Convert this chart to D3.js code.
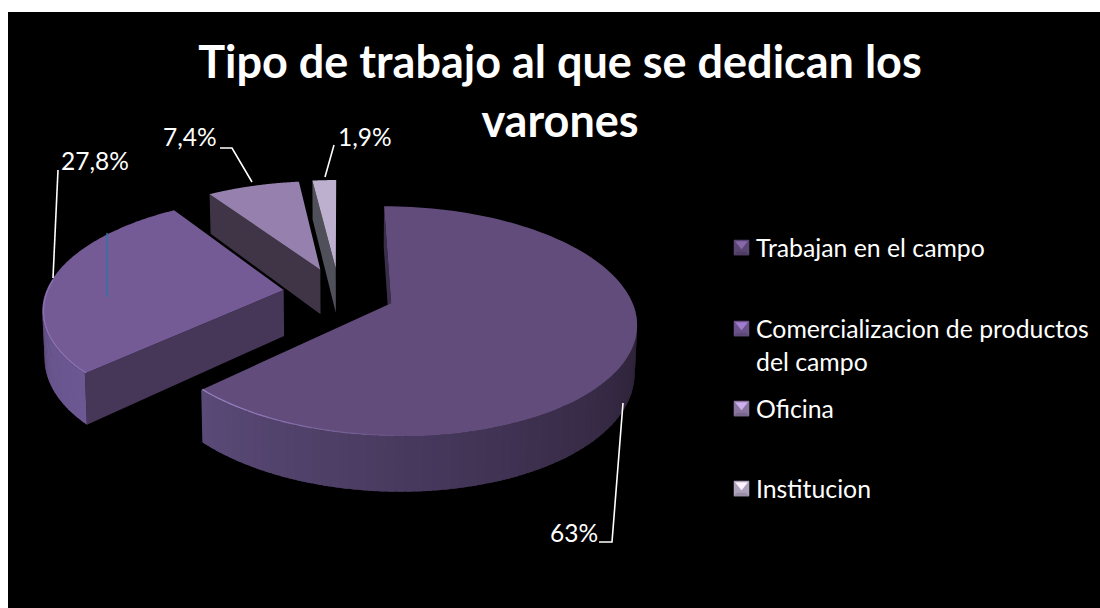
<!DOCTYPE html>
<html><head><meta charset="utf-8">
<style>html,body{margin:0;padding:0;background:#fff;}svg{display:block;}text{font-family:Lato,"Open Sans",sans-serif;fill:#fff;}</style>
<script src="https://cdn.jsdelivr.net/npm/d3@7"></script>
</head><body><svg id="c" width="1100" height="608"></svg>
<script>
const titleLines = ["Tipo de trabajo al que se dedican los", "varones"];
const categories = ["Trabajan en el campo", "Comercializacion de productos del campo", "Oficina", "Institucion"];
const values = [62.9, 27.8, 7.4, 1.9];
const valueLabels = ["63%", "27,8%", "7,4%", "1,9%"];
const topColors = ["#624c7c", "#755b96", "#9680ae", "#bdb0ce"];
const wallStart = ["#281e30", "#6c5892", "#3f3547", "#50505a"];
const wallEnd = ["#5a4a78", "#5c4a7c", "#3f3547", "#50505a"];
const cutColors = ["#3a2f4a", "#463658", "#3f3547", "#50505a"];

const svg = d3.select("#c");
svg.append("rect").attr("x",8).attr("y",12).attr("width",1092).attr("height",596).attr("fill","#000");

// perspective pie
const cx=339, cy=293, R=238, A=109, k=0.155, depth=46, explode=0.235;
function proj(X,Y,Z){ const s=1/(1+k*Y); const z=Z?0.992:1; return [cx+R*X*s*z, cy-A*Y*s+depth*s*(Z||0)]; }
const pie=d3.pie().sort(null).value(d=>d);
const arcs=pie(values).map((a,i)=>{
  const mid=(a.startAngle+a.endAngle)/2;
  return {i,a0:a.startAngle,a1:a.endAngle,ox:explode*Math.sin(mid),oy:explode*Math.cos(mid)};
});
const P=(d,ang,r,Z)=>proj(d.ox+r*Math.sin(ang),d.oy+r*Math.cos(ang),Z);
const line=d3.line();
const g=svg.append("g");
function wallQuad(d,ang,color){
  const poly=[P(d,ang,0,0),P(d,ang,1,0),P(d,ang,1,1),P(d,ang,0,1)];
  g.append("path").attr("d",line(poly)+"Z").attr("fill",color);
}
function drawSlice(d){
  const i=d.i, n=120, step=(d.a1-d.a0)/n;
  wallQuad(d,d.a0,cutColors[i]);
  const col=d3.interpolateRgb(wallStart[i],wallEnd[i]);
  for(let j=0;j<n;j++){
    const t0=d.a0+j*step,t1=t0+step*1.8, tm=t0+step/2;
    if(Math.cos(tm)>0.02+(i===1?-0.25:0)) continue;
    const te=Math.min(t1,d.a1);
    const poly=[P(d,t0,1,0),P(d,te,1,0),P(d,te,1,1),P(d,t0,1,1)];
    const u=i===0? d3.scaleLinear().domain([Math.PI/2,d.a1]).clamp(true)(tm) : j/n;
    const c=i===0? d3.scaleLinear().domain([0,.45,1]).range(["#281e30","#3d304f","#5a4a78"]).interpolate(d3.interpolateRgb)(u) : col(u);
    g.append("path").attr("d",line(poly)+"Z").attr("fill",c);
  }
  const top=[P(d,0,0,0)];
  for(let j=0;j<=n;j++) top.push(P(d,d.a0+j*step,1,0));
  g.append("path").attr("d",line(top)+"Z").attr("fill",topColors[i]);
  if(i<2){
    for(let j=0;j<n;j++){
      const t0=d.a0+j*step,t1=t0+step, tm=(t0+t1)/2;
      const c=Math.cos(tm), sn=Math.sin(tm);
      if(c>0.1) continue;
      const op=i===0? Math.max(0,Math.min(.9,-sn*1.4+.05)) : .55;
      g.append("path").attr("d",line([P(d,t0,.995,0),P(d,t1,.995,0)])).attr("stroke","#9a84c4").attr("stroke-width",1.4).attr("stroke-opacity",op).attr("fill","none");
    }
  }
}
[2,3,1,0].forEach(i=>drawSlice(arcs[i]));

const strayMark={x:107,y0:233,y1:297};
svg.append("line").attr("x1",strayMark.x).attr("x2",strayMark.x).attr("y1",strayMark.y0).attr("y2",strayMark.y1).attr("stroke","#2f72a8").attr("stroke-width",1.5);

svg.append("g").selectAll("text").data(titleLines).join("text")
  .attr("x",560).attr("y",(d,i)=>[78,137][i]).attr("text-anchor","middle")
  .attr("font-size",45).attr("font-weight",700).text(d=>d);

const labelPos=[[550,542],[61,170],[163,146],[338,146]];
svg.append("g").selectAll("text").data(valueLabels).join("text")
  .attr("x",(d,i)=>labelPos[i][0]).attr("y",(d,i)=>labelPos[i][1]).attr("font-size",24.5).text(d=>d);
const leaders=[[[623,403],[612,542],[599,542]],[[53,278],[58,170]],[[220,148],[232,148],[252,182]],[[334,145],[325,177]]];
svg.append("g").selectAll("path").data(leaders).join("path").attr("d",d=>line(d)).attr("fill","none").attr("stroke","#fff").attr("stroke-width",1.6);

const legendRows=[[0,[categories[0]],257],[1,["Comercializacion de productos","del campo"],338],[2,[categories[2]],418],[3,[categories[3]],498]];
const lg=svg.append("g");
legendRows.forEach(([i,lines,y])=>{
  const base=d3.color(topColors[i]);
  const s=lg.append("g").attr("transform",`translate(734,${y-17})`);
  const face=(pts,c)=>s.append("path").attr("d",line(pts)+"Z").attr("fill",c).attr("stroke",c).attr("stroke-width",.5);
  face([[0,0],[15,0],[15,15],[0,15]],base.darker(.25));
  face([[0,15],[15,15],[12,12],[3,12]],base.darker(.6));
  face([[1.5,1.5],[13.5,1.5],[7.5,9]],base.brighter(.9));
  lines.forEach((t,j)=>lg.append("text").attr("x",756).attr("y",y+j*33).attr("font-size",24.8).text(t));
});
</script></body></html>
